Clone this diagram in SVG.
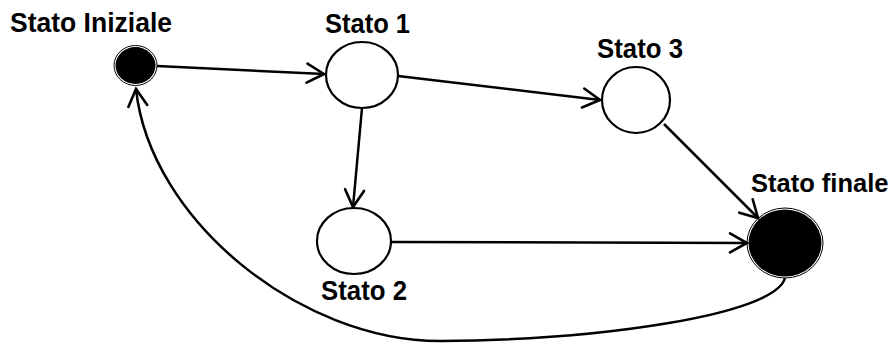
<svg xmlns="http://www.w3.org/2000/svg" width="895" height="343" viewBox="0 0 895 343">
  <style>
    .label { font-family: "Liberation Sans", Arial, sans-serif; font-weight: bold; font-size: 27.5px; fill: #000; }
    .label.edge-side { font-size: 25.5px; }
    .state { fill: #fff; stroke: #000; stroke-width: 2.2; }
    .solid { fill: #000; }
    .ring { fill: none; stroke: #000; stroke-width: 1; }
    .edge { fill: none; stroke: #000; stroke-width: 2.5; marker-end: url(#open); }
  </style>
  <defs>
    <marker id="open" markerUnits="userSpaceOnUse" markerWidth="24" markerHeight="24" viewBox="-20 -12 24 24" refX="0" refY="0" orient="auto" overflow="visible">
      <path d="M-17,-9.5 L0,0 L-17,9.5" fill="none" stroke="#000" stroke-width="2.6" stroke-linecap="round" stroke-linejoin="miter"/>
    </marker>
  </defs>

  <g id="connectors">
    <path class="edge" d="M157,66 L324,74"/>
    <path class="edge" d="M398,76 L600,100"/>
    <path class="edge" d="M362,108 L353,207"/>
    <path class="edge" d="M664,124 L758,218"/>
    <path class="edge" d="M391,242 L747,243"/>
    <path class="edge" d="M785,278 C775,315 600,340 440,341 C300,341 150,220 136,89"/>
  </g>

  <g id="stato-iniziale">
    <ellipse class="solid" cx="135.5" cy="65.5" rx="20" ry="18.5"/>
    <ellipse class="ring" cx="135.5" cy="65.5" rx="21.5" ry="20"/>
    <text class="label" x="10" y="32" textLength="162" lengthAdjust="spacingAndGlyphs">Stato Iniziale</text>
  </g>

  <g id="stato-1">
    <ellipse class="state" cx="362" cy="75" rx="36" ry="33"/>
    <text class="label" x="325" y="33" textLength="85" lengthAdjust="spacingAndGlyphs">Stato 1</text>
  </g>

  <g id="stato-3">
    <ellipse class="state" cx="636" cy="100" rx="34" ry="33"/>
    <text class="label" x="597" y="58" textLength="86" lengthAdjust="spacingAndGlyphs">Stato 3</text>
  </g>

  <g id="stato-2">
    <ellipse class="state" cx="354" cy="241" rx="37" ry="33"/>
    <text class="label" x="321" y="300" textLength="86" lengthAdjust="spacingAndGlyphs">Stato 2</text>
  </g>

  <g id="stato-finale">
    <ellipse class="solid" cx="785" cy="243" rx="36.5" ry="33.5"/>
    <ellipse class="ring" cx="785" cy="243" rx="38" ry="35"/>
    <text class="label edge-side" x="751" y="192">Stato finale</text>
  </g>
</svg>
